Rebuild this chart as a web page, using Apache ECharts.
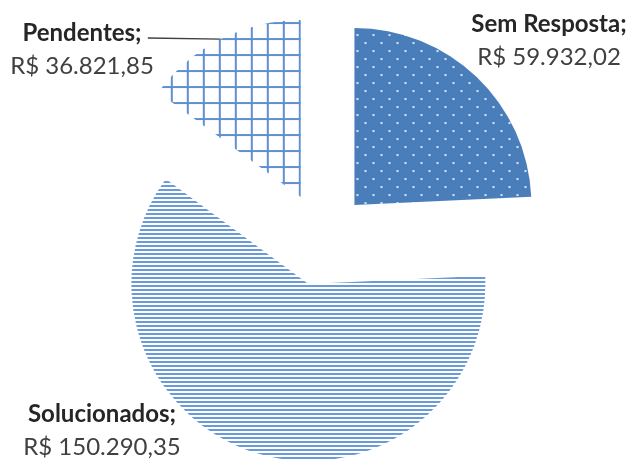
<!DOCTYPE html>
<html><head><meta charset="utf-8">
<script src="https://cdn.jsdelivr.net/npm/echarts@6/dist/echarts.min.js"></script>
<style>html,body{margin:0;padding:0;background:#fff}#c{width:632px;height:459px}</style>
</head><body><div id="c"></div>
<script>
const categories = ['Sem Resposta', 'Solucionados', 'Pendentes'];
const values = [59932.02, 150290.35, 36821.85];

function fmtBRL(v) {
  const parts = v.toFixed(2).split('.');
  return 'R$ ' + parts[0].replace(/\B(?=(\d{3})+(?!\d))/g, '.') + ',' + parts[1];
}
function tile(w, h, draw) {
  const c = document.createElement('canvas'); c.width = w; c.height = h;
  draw(c.getContext('2d')); return c;
}
const dotTile = tile(16, 16, g => {
  g.fillStyle = '#4a7ebb'; g.fillRect(0, 0, 16, 16);
  g.fillStyle = '#dde7f4'; g.fillRect(4, 4, 2, 2); g.fillRect(12, 12, 2, 2);
});
const hLineTile = tile(4, 4, g => {
  g.fillStyle = '#ffffff'; g.fillRect(0, 0, 4, 4);
  g.fillStyle = '#6a9ad8'; g.fillRect(0, 0, 4, 2);
});
const gridTile = tile(16, 16, g => {
  g.fillStyle = '#ffffff'; g.fillRect(0, 0, 16, 16);
  g.fillStyle = '#5f8fd2'; g.fillRect(0, 0, 16, 2); g.fillRect(0, 0, 2, 16);
});
const fills = [dotTile, hLineTile, gridTile];
const labelPos = [[549, 8], [102, 398], [82, 17]];
const CENTER = [322, 239], R = 177, OFFSET = 47;

const chart = echarts.init(document.getElementById('c'), null, {renderer: 'canvas'});
chart.setOption({
  animation: false,
  backgroundColor: '#ffffff',
  series: [{
    type: 'pie',
    center: CENTER,
    radius: R,
    startAngle: 90,
    clockwise: true,
    selectedMode: 'multiple',
    selectedOffset: OFFSET,
    emphasis: {disabled: true},
    label: {show: false},
    labelLine: {show: false},
    data: categories.map((c, i) => ({
      name: c, value: values[i], selected: true,
      itemStyle: {color: {image: fills[i], repeat: 'repeat'}}
    }))
  }, {
    // label carrier: same angles, radius reaching the exploded outer arc
    type: 'pie',
    center: CENTER,
    radius: R + OFFSET,
    startAngle: 90,
    clockwise: true,
    silent: true,
    avoidLabelOverlap: false,
    emphasis: {disabled: true},
    itemStyle: {color: 'rgba(0,0,0,0)'},
    label: {
      show: true,
      position: 'outside',
      formatter: p => '{b|' + p.name + ';}\n{v|' + fmtBRL(p.value) + '}',
      rich: {
        b: {fontFamily: 'Lato', fontWeight: 'bold', fontSize: 24, color: '#262626', lineHeight: 33, align: 'center'},
        v: {fontFamily: 'Lato', fontSize: 24, color: '#404040', lineHeight: 33, align: 'center'}
      }
    },
    labelLine: {show: false, lineStyle: {color: '#404040', width: 1.3}},
    labelLayout: function (params) {
      const i = params.dataIndex;
      const r = params.labelRect;
      const o = {x: labelPos[i][0], y: labelPos[i][1], align: 'center', verticalAlign: 'top'};
      if (i === 2 && params.labelLinePoints) {
        const p0 = params.labelLinePoints[0];
        o.labelLinePoints = [[p0[0], p0[1]], [labelPos[i][0] + r.width / 2 - 6, labelPos[i][1] + 21]];
      }
      return o;
    },
    data: categories.map((c, i) => ({
      name: c, value: values[i],
      labelLine: {show: i === 2}
    }))
  }]
});
</script></body></html>
